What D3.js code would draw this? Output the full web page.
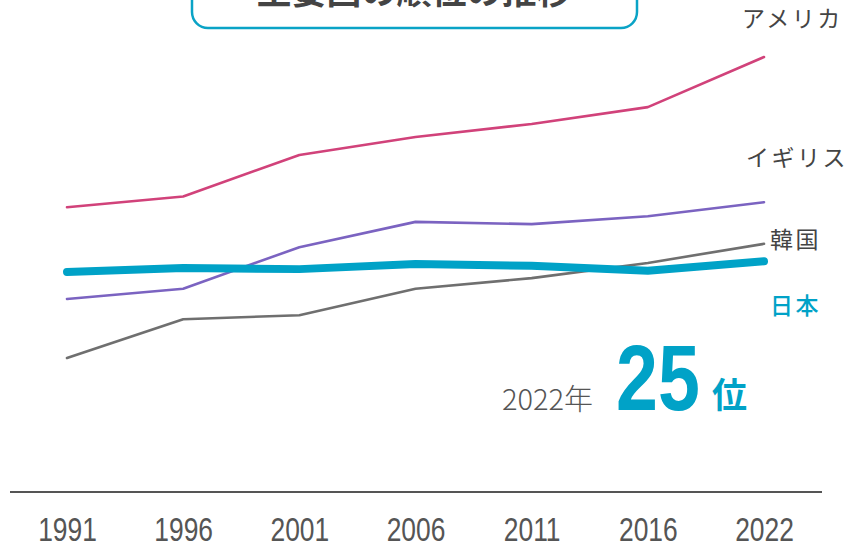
<!DOCTYPE html>
<html>
<head>
<meta charset="utf-8">
<script src="https://cdn.jsdelivr.net/npm/d3@7"></script>
<style>
  body { margin: 0; background: #fff; }
  svg { display: block; }
  .jp { font-family: "Noto Sans CJK JP", "Noto Sans", sans-serif; }
  .num { font-family: "Liberation Sans", Arial, sans-serif; }
</style>
</head>
<body>
<script>
// average wage ranking chart (USD thousands)
var years = ["1991", "1996", "2001", "2006", "2011", "2016", "2022"];
var usa   = [50.8, 52.7, 60.1, 63.3, 65.6, 68.6, 77.5];
var uk    = [34.5, 36.3, 43.7, 48.2, 47.8, 49.2, 51.7];
var korea = [24.0, 30.9, 31.6, 36.3, 38.2, 40.9, 44.3];
var japan = [39.3, 40.0, 39.8, 40.7, 40.4, 39.5, 41.2];
var names = ["アメリカ", "イギリス", "韓国", "日本"];
var rankYear = "2022年", rankValue = "25", rankUnit = "位";
var title = "主要国の順位の推移";

var width = 846,
    height = 541;

var x = d3.scalePoint()
    .domain(years)
    .range([67, 764]);

var y = d3.scaleLinear()
    .domain([0, 80])
    .range([493, 43]);

var svg = d3.select("body").append("svg")
    .attr("width", width)
    .attr("height", height);

/***** title box (top cut off) *****/
svg.append("rect")
    .attr("x", 192).attr("y", -40)
    .attr("width", 445).attr("height", 68)
    .attr("rx", 16)
    .attr("fill", "#fff")
    .attr("stroke", "#0aa3c6")
    .attr("stroke-width", 2.5);

svg.append("text")
    .attr("class", "jp")
    .attr("x", 414).attr("y", 4)
    .attr("text-anchor", "middle")
    .attr("font-size", 35)
    .attr("font-weight", "bold")
    .attr("fill", "#444")
    .text(title);

/***** axis *****/
var axis = svg.append("g")
    .attr("transform", "translate(0,492)")
    .call(d3.axisBottom(x).tickSize(0).tickPadding(0));
axis.select(".domain").remove();
axis.append("line")
    .attr("x1", 10).attr("x2", 822)
    .attr("stroke", "#555")
    .attr("stroke-width", 2);
axis.selectAll(".tick text")
    .attr("class", "num")
    .attr("font-size", 33)
    .attr("fill", "#555")
    .attr("y", 49)
    .attr("dy", 0)
    .attr("transform", "scale(0.8,1)");

/***** lines *****/
var series = [
  {name: names[1], values: uk,    color: "#7b63c1", w: 2.6},
  {name: names[2], values: korea, color: "#6f6f6f", w: 2.6},
  {name: names[0], values: usa,   color: "#d1427a", w: 2.6},
  {name: names[3], values: japan, color: "#00a2c7", w: 8}
];

var line = d3.line()
    .x(function(d, i) { return x(years[i]); })
    .y(function(d) { return y(d); });

svg.selectAll("path.series")
    .data(series)
    .enter()
    .append("path")
    .attr("class", "series")
    .attr("d", function(d) { return line(d.values); })
    .attr("fill", "none")
    .attr("stroke", function(d) { return d.color; })
    .attr("stroke-width", function(d) { return d.w; })
    .attr("stroke-linecap", "round")
    .attr("stroke-linejoin", "round");

/***** labels at the right *****/
var labels = [
  {text: names[0], x: 742, y: 27,  color: "#444", weight: 400},
  {text: names[1], x: 746, y: 166, color: "#444", weight: 400},
  {text: names[2], x: 770, y: 248, color: "#444", weight: 400},
  {text: names[3], x: 770, y: 314, color: "#00a2c7", weight: 500}
];

svg.selectAll("text.lab")
    .data(labels)
    .enter()
    .append("text")
    .attr("class", "lab jp")
    .attr("x", function(d) { return d.x; })
    .attr("y", function(d) { return d.y; })
    .attr("font-size", 23)
    .attr("letter-spacing", 2.5)
    .attr("font-weight", function(d) { return d.weight; })
    .attr("fill", function(d) { return d.color; })
    .text(function(d) { return d.text; });

/***** 2022 rank callout *****/
svg.append("text")
    .attr("class", "jp")
    .attr("x", 502).attr("y", 410)
    .attr("font-size", 29)
    .attr("font-weight", 300)
    .attr("fill", "#555")
    .text(rankYear);

svg.append("text")
    .attr("class", "num")
    .attr("transform", "translate(616,410) scale(0.81,1)")
    .attr("font-size", 93)
    .attr("font-weight", "bold")
    .attr("fill", "#00a2c7")
    .text(rankValue);

svg.append("text")
    .attr("class", "jp")
    .attr("x", 712).attr("y", 408)
    .attr("font-size", 35)
    .attr("font-weight", "bold")
    .attr("fill", "#00a2c7")
    .text(rankUnit);
</script>
</body>
</html>
